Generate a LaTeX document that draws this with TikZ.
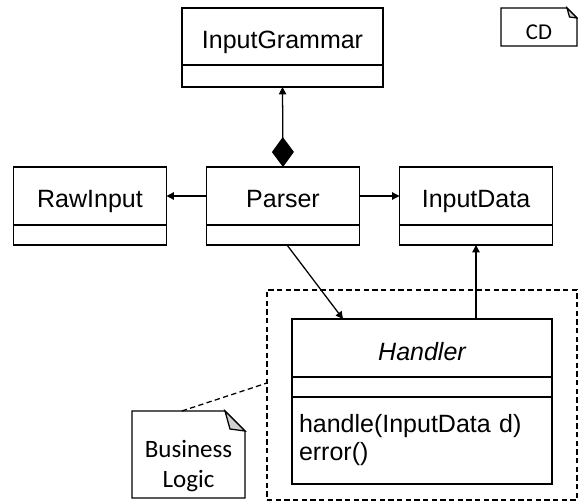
\documentclass[tikz,border=0pt]{standalone}
\usepackage{fontspec}
\setmainfont{Liberation Sans}
\newfontfamily\notefont{Carlito}
\usetikzlibrary{positioning,arrows.meta}

\tikzset{every picture/.style={line width=0.95pt}}
\tikzset{
  clsname/.style={draw, rectangle, inner sep=0pt, outer sep=0pt, minimum width=114.75pt, minimum height=43.5pt,
    text height=18pt, text depth=0pt, font=\fontsize{18.75}{22}\selectfont},
  clsattr/.style={draw, rectangle, inner sep=0pt, outer sep=0pt, minimum width=114.75pt, minimum height=15pt},
  clsops/.style={draw, rectangle, inner xsep=5.25pt, inner ysep=0pt, outer sep=0pt, minimum height=65.25pt,
    text width=184.5pt, align=left, font=\fontsize{18.75}{21}\selectfont},
  assoc/.style={-{Triangle[length=5.5pt,width=5.5pt]}},
  notebox/.style={rectangle, inner sep=0pt, outer sep=0pt},
  notetext/.style={inner sep=0pt, align=center, font=\notefont\fontsize{18.75}{22.5}\selectfont},
  foldgray/.style={fill=black!18}
}

\begin{document}
\begin{tikzpicture}[x=0.75pt,y=0.75pt,yscale=-1,xscale=1]
\useasboundingbox (0,0) rectangle (578,502);

%Class InputGrammar
\node[clsname, minimum width=150.75pt, minimum height=42.75pt] (grammar) at (282.5,36.5) {InputGrammar};
\node[clsattr, minimum width=150.75pt, minimum height=16.5pt, below=0pt of grammar] (grammarattr) {};

%Classes Parser, RawInput, InputData
\node[clsname] (parser) at (283,196) {Parser};
\node[clsattr, below=0pt of parser] (parserattr) {};
\node[clsname, left=30pt of parser] (rawinput) {RawInput};
\node[clsattr, below=0pt of rawinput] (rawinputattr) {};
\node[clsname, right=30pt of parser] (inputdata) {InputData};
\node[clsattr, below=0pt of inputdata] (inputdataattr) {};

%Class Handler
\node[clsname, minimum width=195pt, font=\fontsize{18.75}{22}\selectfont\itshape] (handler) at (422,348) {Handler};
\node[clsattr, minimum width=195pt, below=0pt of handler] (handlerattr) {};
\node[clsops, below=0pt of handlerattr] (handlerops) {handle(InputData d)\\error()};

%Package region
\node[draw, dash pattern=on 4pt off 2.5pt, minimum width=232.5pt, minimum height=157.5pt] (bizregion) at (422,395) {};
\coordinate (bizlink) at (267,383);

%Notes
\node[notebox, minimum width=84.75pt, minimum height=65.25pt] (bizlogic) at (188.5,454.5) {};
\draw (bizlogic.south west) -- (bizlogic.north west) -- ([xshift=-15pt]bizlogic.north east) -- ++(20,20) -- (bizlogic.south east) -- cycle;
\draw[foldgray] ([xshift=-15pt]bizlogic.north east) -- ++(5,18) -- ++(15,2) -- cycle;
\node[notetext] (bizlogictext) at (188.5,466) {Business\\Logic};

\node[notebox, minimum width=57pt, minimum height=28.5pt] (cd) at (539,27) {};
\draw (cd.south west) -- (cd.north west) -- ([xshift=-7.5pt]cd.north east) -- ++(10,10) -- (cd.south east) -- cycle;
\draw[foldgray] ([xshift=-7.5pt]cd.north east) -- ++(2.5,9) -- ++(7.5,1) -- cycle;
\node[notetext, font=\notefont\fontsize{17}{20}\selectfont] (cdtext) at (539,32) {CD};

%Connectors
\draw[{Diamond[length=22.5pt,width=16.5pt]}-{Triangle[length=5.5pt,width=5.5pt]}] (parser.north) -- (grammarattr.south);
\draw[assoc] (parser.west) -- (rawinput.east);
\draw[assoc] (parser.east) -- (inputdata.west);
\draw[assoc] ([xshift=3pt]parserattr.south) -- ([xshift=-59.25pt]handler.north);
\draw[assoc] (inputdataattr.south |- handler.north) -- (inputdataattr.south);
\draw[dash pattern=on 4pt off 2.5pt] ([xshift=-5pt]bizlogic.north) -- (bizlink);

\end{tikzpicture}
\end{document}
